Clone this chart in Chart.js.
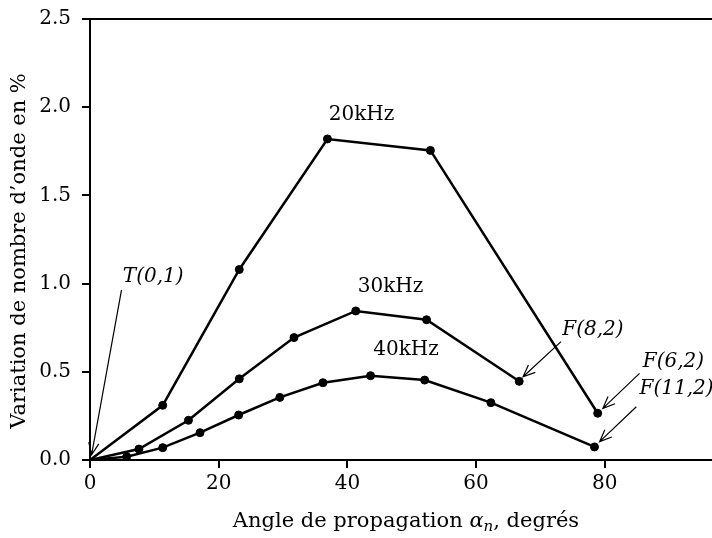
<!DOCTYPE html>
<html>
<head>
<meta charset="utf-8">
<script src="https://cdn.jsdelivr.net/npm/chart.js@4/dist/chart.umd.min.js"></script>
<style>
  body { margin: 0; background: #fff; }
  canvas { display: block; }
</style>
</head>
<body>
<canvas id="waveChart" width="712" height="538"></canvas>
<script>
// angles (degrés) and variation (%) for each frequency
const angles20 = [0, 11.3, 23.2, 36.9, 52.9, 78.9];
const var20 = [0, 0.31, 1.08, 1.82, 1.755, 0.265];

const angles30 = [0, 7.6, 15.3, 23.2, 31.7, 41.3, 52.3, 66.7];
const var30 = [0, 0.062, 0.225, 0.46, 0.694, 0.845, 0.795, 0.446];

const angles40 = [0, 5.7, 11.3, 17.1, 23.1, 29.5, 36.2, 43.6, 52.0, 62.3, 78.4];
const var40 = [0, 0.019, 0.07, 0.155, 0.255, 0.355, 0.438, 0.478, 0.453, 0.325, 0.074];

const xTicks = [0, 20, 40, 60, 80];
const yTicks = [0, 0.5, 1.0, 1.5, 2.0, 2.5];

// curve labels, in data units
const freqLabels = [
  { text: '20kHz', x: 42.2, y: 1.956 },
  { text: '30kHz', x: 46.7, y: 0.982 },
  { text: '40kHz', x: 49.1, y: 0.624 }
];

// mode labels with arrow (from -> to), in data units
const modeLabels = [
  { text: 'T(0,1)', x: 5.1, y: 1.039, from: [4.9, 0.964], to: [0.25, 0.03] },
  { text: 'F(8,2)', x: 73.4, y: 0.737, from: [73.2, 0.671], to: [67.3, 0.472] },
  { text: 'F(6,2)', x: 85.9, y: 0.557, from: [85.4, 0.491], to: [79.7, 0.293] },
  { text: 'F(11,2)', x: 85.4, y: 0.406, from: [84.9, 0.302], to: [79.2, 0.104] }
];

const SERIF = '"DejaVu Serif", serif';

function toPoints(xs, ys) {
  return xs.map((x, i) => ({ x, y: ys[i] }));
}

function series(xs, ys) {
  return {
    data: toPoints(xs, ys),
    showLine: true,
    borderColor: '#000',
    backgroundColor: '#000',
    borderWidth: 2.5,
    pointBorderWidth: 1,
    pointRadius: xs.map((x, i) => i === 0 ? 0 : 4),
    pointHoverRadius: 4,
    tension: 0
  };
}

function arrow(ctx, x1, y1, x2, y2) {
  const a = Math.atan2(y2 - y1, x2 - x1);
  const len = 13, spread = 0.4;
  ctx.beginPath();
  ctx.moveTo(x1, y1);
  ctx.lineTo(x2, y2);
  ctx.moveTo(x2 - len * Math.cos(a - spread), y2 - len * Math.sin(a - spread));
  ctx.lineTo(x2, y2);
  ctx.lineTo(x2 - len * Math.cos(a + spread), y2 - len * Math.sin(a + spread));
  ctx.stroke();
}

const decorations = {
  id: 'decorations',
  afterDraw(chart) {
    const { ctx, chartArea, scales } = chart;
    const sx = v => scales.x.getPixelForValue(v);
    const sy = v => scales.y.getPixelForValue(v);
    ctx.save();

    // top frame line
    ctx.strokeStyle = '#000';
    ctx.lineWidth = 2;
    ctx.beginPath();
    ctx.moveTo(chartArea.left - 1, chartArea.top);
    ctx.lineTo(chartArea.right, chartArea.top);
    ctx.stroke();

    ctx.fillStyle = '#000';
    ctx.textBaseline = 'middle';

    ctx.font = '20px ' + SERIF;
    ctx.textAlign = 'center';
    freqLabels.forEach(l => ctx.fillText(l.text, sx(l.x), sy(l.y)));

    ctx.font = 'italic 20px ' + SERIF;
    ctx.textAlign = 'left';
    ctx.lineWidth = 1.2;
    modeLabels.forEach(l => {
      ctx.fillText(l.text, sx(l.x), sy(l.y));
      arrow(ctx, sx(l.from[0]), sy(l.from[1]), sx(l.to[0]), sy(l.to[1]));
    });

    // x axis title, with italic alpha and subscript n
    const ty = 522;
    const parts = [
      { t: 'Angle de propagation ', f: '21px ' + SERIF, dy: 0 },
      { t: 'α', f: 'italic 21px ' + SERIF, dy: 0 },
      { t: 'n', f: 'italic 15px ' + SERIF, dy: 5 },
      { t: ', degrés', f: '21px ' + SERIF, dy: 0 }
    ];
    let total = 0;
    parts.forEach(p => { ctx.font = p.f; p.w = ctx.measureText(p.t).width; total += p.w; });
    let x = 406 - total / 2;
    parts.forEach(p => {
      ctx.font = p.f;
      ctx.fillText(p.t, x, ty + p.dy);
      x += p.w;
    });

    // y axis title
    ctx.translate(20, 251);
    ctx.rotate(-Math.PI / 2);
    ctx.textAlign = 'center';
    ctx.font = '21px ' + SERIF;
    ctx.fillText('Variation de nombre d\u2019onde en %', 0, 0);

    ctx.restore();
  }
};

new Chart(document.getElementById('waveChart'), {
  type: 'scatter',
  data: {
    datasets: [series(angles20, var20), series(angles30, var30), series(angles40, var40)]
  },
  plugins: [decorations],
  options: {
    responsive: false,
    animation: false,
    layout: { autoPadding: false, padding: { top: 19, right: 0, left: 0, bottom: 0 } },
    plugins: { legend: { display: false }, tooltip: { enabled: false } },
    scales: {
      x: {
        type: 'linear',
        min: 0,
        max: 96.66,
        afterFit: s => { s.height = 78; s.paddingRight = 0; s.paddingLeft = 0; },
        afterBuildTicks: s => { s.ticks = xTicks.map(v => ({ value: v })); },
        grid: { drawOnChartArea: false, color: '#000', lineWidth: 2, tickLength: 8 },
        border: { color: '#000', width: 2 },
        ticks: { color: '#000', font: { family: SERIF, size: 20 }, padding: 4 }
      },
      y: {
        min: 0,
        max: 2.5,
        afterFit: s => { s.width = 90; s.paddingTop = 0; s.paddingBottom = 0; },
        afterBuildTicks: s => { s.ticks = yTicks.map(v => ({ value: v })); },
        grid: { drawOnChartArea: false, color: '#000', lineWidth: 2, tickLength: 8 },
        border: { color: '#000', width: 2 },
        ticks: {
          color: '#000',
          font: { family: SERIF, size: 20 },
          padding: 11,
          callback: v => v.toFixed(1)
        }
      }
    }
  }
});
</script>
</body>
</html>
